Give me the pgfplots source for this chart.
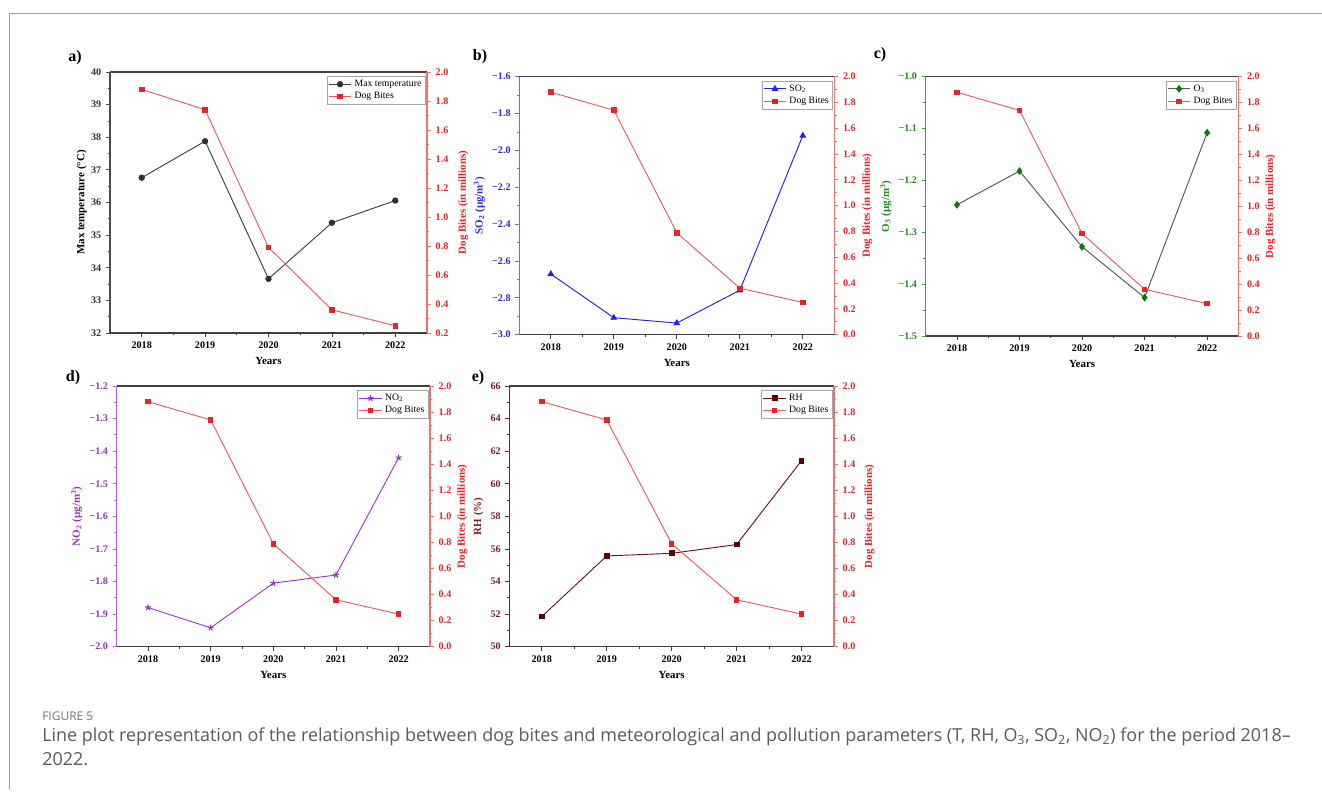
\documentclass[border=0pt]{standalone}
\usepackage{fontspec}
\setmainfont{Liberation Serif}
\newfontfamily\capfont{Open Sans}
\usepackage{pgfplots}
\pgfplotsset{compat=1.18}
\definecolor{dbline}{HTML}{F25A5A}
\definecolor{dbmark}{HTML}{E82428}
\definecolor{axred}{HTML}{F27070}
\definecolor{tlred}{HTML}{EC2225}
\definecolor{tline}{HTML}{404040}
\definecolor{tmark}{HTML}{303030}
\definecolor{sline}{HTML}{2020F0}
\definecolor{slab}{HTML}{2A2AD8}
\definecolor{sax}{HTML}{6A6AFF}
\definecolor{oline}{HTML}{555555}
\definecolor{omark}{HTML}{0B7A0B}
\definecolor{olab}{HTML}{1F8A1F}
\definecolor{oax}{HTML}{3CA83C}
\definecolor{nline}{HTML}{A535D8}
\definecolor{nmark}{HTML}{8E2BC2}
\definecolor{nlab}{HTML}{9B33C4}
\definecolor{nax}{HTML}{B85CE6}
\definecolor{rline}{HTML}{7A0E0E}
\definecolor{rmark}{HTML}{5C0000}
\definecolor{rlab}{HTML}{7D1F1F}
\definecolor{rax}{HTML}{7A2020}
\definecolor{capgray}{HTML}{5A5A5A}
\definecolor{bordergray}{HTML}{A0A0A0}

\pgfplotsset{
  base/.style={scale only axis, anchor=south west,
    xmin=2017.5, xmax=2022.5,
    tick align=outside, major tick length=3pt, minor tick length=1.7pt,
    every tick/.append style={line width=0.6pt},
    tick label style={font=\bfseries\fontsize{7.6}{8}\selectfont},
    label style={font=\bfseries\fontsize{8.2}{9}\selectfont},
    axis line style={line width=0.8pt},
    minor y tick num=1,
  },
  leftax/.style={base, separate axis lines,
    xtick={2018,2019,2020,2021,2022},
    xticklabels={2018,2019,2020,2021,2022},
    minor x tick num=1,
    xtick pos=bottom, ytick pos=left,
    x axis line style={black!75},
    x tick style={black!75},
    xlabel={Years},
  },
  rightax/.style={base, axis y line*=right, axis x line=none,
    xtick=\empty,
    y axis line style={axred}, y tick style={axred},
    yticklabel style={tlred},
    ylabel={Dog Bites (in millions)}, ylabel style={tlred},
    ytick={0,0.2,0.4,0.6,0.8,1.0,1.2,1.4,1.6,1.8,2.0},
    yticklabels={0.0,0.2,0.4,0.6,0.8,1.0,1.2,1.4,1.6,1.8,2.0},
    ymin=0, ymax=2,
    legend style={at={(0.995,0.985)}, anchor=north east, draw=gray!70,
      line width=0.5pt, font=\fontsize{7.3}{8.5}\selectfont,
      inner sep=0.8pt, row sep=-1pt, cells={anchor=west}},
  },
  dog/.style={color=dbline, line width=0.7pt, mark=square*, mark size=1.7pt,
    mark options={fill=dbmark, draw=dbmark}},
}

\begin{document}
\begin{tikzpicture}
\path[use as bounding box] (0pt,0pt) rectangle (991.5pt,-595.5pt);
\draw[bordergray, line width=0.75pt] (991.5pt,-9.75pt) -- (6.75pt,-9.75pt) -- (6.75pt,-592.5pt);

% ---------- panel a ----------
\begin{axis}[leftax, at={(82.5pt,-249.75pt)}, width=237.75pt, height=195.75pt,
  ymin=32, ymax=40, ytick={32,33,34,35,36,37,38,39,40},
  yticklabels={32,33,34,35,36,37,38,39,40},
  y axis line style={black!70}, y tick style={black!70},
  yticklabel style={black!80}, ylabel={Max temperature (°C)}, ylabel style={yshift=-3.5pt}]
\addplot[color=tline, line width=0.7pt, mark=*, mark size=2pt, mark options={fill=tmark, draw=tmark}]
  coordinates {(2018,36.76)(2019,37.88)(2020,33.66)(2021,35.38)(2022,36.06)};
\end{axis}
\begin{axis}[rightax, at={(82.5pt,-249.75pt)}, width=237.75pt, height=195.75pt,
  ymin=0.2, ymax=2.0,
  ytick={0.2,0.4,0.6,0.8,1.0,1.2,1.4,1.6,1.8,2.0},
  yticklabels={0.2,0.4,0.6,0.8,1.0,1.2,1.4,1.6,1.8,2.0}, ylabel style={yshift=-0.5pt}]
\addlegendimage{color=tline, line width=0.7pt, mark=*, mark size=2pt, mark options={fill=tmark, draw=tmark}}
\addlegendentry{Max temperature}
\addplot[dog] coordinates {(2018,1.88)(2019,1.74)(2020,0.79)(2021,0.36)(2022,0.25)};
\addlegendentry{Dog Bites}
\end{axis}

% ---------- panel b ----------
\begin{axis}[leftax, at={(389.5pt,-251pt)}, width=236.25pt, height=193.5pt,
  ymin=-3.0, ymax=-1.6, ytick={-3.0,-2.8,-2.6,-2.4,-2.2,-2.0,-1.8,-1.6},
  yticklabels={−3.0,−2.8,−2.6,−2.4,−2.2,−2.0,−1.8,−1.6},
  y axis line style={sax}, y tick style={sax},
  yticklabel style={slab}, ylabel={SO\textsubscript{2} (µg/m\textsuperscript{3})}, ylabel style={slab, yshift=-1.5pt}]
\addplot[color=sline, line width=0.7pt, mark=triangle*, mark size=2.3pt, mark options={fill=sline, draw=sline}]
  coordinates {(2018,-2.671)(2019,-2.908)(2020,-2.937)(2021,-2.759)(2022,-1.92)};
\end{axis}
\begin{axis}[rightax, at={(389.5pt,-251pt)}, width=236.25pt, height=193.5pt, ylabel style={yshift=2pt}]
\addlegendimage{color=sline, line width=0.7pt, mark=triangle*, mark size=2.3pt, mark options={fill=sline, draw=sline}}
\addlegendentry{SO\textsubscript{2}}
\addplot[dog] coordinates {(2018,1.88)(2019,1.74)(2020,0.79)(2021,0.36)(2022,0.25)};
\addlegendentry{Dog Bites}
\end{axis}

% ---------- panel c ----------
\begin{axis}[leftax, at={(694.3pt,-252pt)}, width=234.5pt, height=194.5pt,
  ymin=-1.5, ymax=-1.0, ytick={-1.5,-1.4,-1.3,-1.2,-1.1,-1.0},
  yticklabels={−1.5,−1.4,−1.3,−1.2,−1.1,−1.0},
  y axis line style={oax}, y tick style={oax},
  yticklabel style={olab}, ylabel={O\textsubscript{3} (µg/m\textsuperscript{3})}, ylabel style={olab, yshift=-1.5pt}]
\addplot[color=oline, line width=0.7pt, mark=diamond*, mark size=2.4pt, mark options={fill=omark, draw=omark}]
  coordinates {(2018,-1.247)(2019,-1.182)(2020,-1.328)(2021,-1.426)(2022,-1.108)};
\end{axis}
\begin{axis}[rightax, at={(694.3pt,-252pt)}, width=234.5pt, height=194.5pt, ylabel style={yshift=2.5pt}]
\addlegendimage{color=oline, line width=0.7pt, mark=diamond*, mark size=2.4pt, mark options={fill=omark, draw=omark}}
\addlegendentry{O\textsubscript{3}}
\addplot[dog] coordinates {(2018,1.88)(2019,1.74)(2020,0.79)(2021,0.36)(2022,0.25)};
\addlegendentry{Dog Bites}
\end{axis}

% ---------- panel d ----------
\begin{axis}[leftax, at={(87.5pt,-485pt)}, width=235pt, height=195.5pt,
  ymin=-2.0, ymax=-1.2, ytick={-2.0,-1.9,-1.8,-1.7,-1.6,-1.5,-1.4,-1.3,-1.2},
  yticklabels={−2.0,−1.9,−1.8,−1.7,−1.6,−1.5,−1.4,−1.3,−1.2},
  y axis line style={nax}, y tick style={nax},
  yticklabel style={nlab}, ylabel={NO\textsubscript{2} (µg/m\textsuperscript{3})}, ylabel style={nlab, yshift=-1.5pt}]
\addplot[color=nline, line width=0.7pt, mark=star, mark size=2.3pt, mark options={draw=nmark, line width=0.8pt}]
  coordinates {(2018,-1.88)(2019,-1.942)(2020,-1.805)(2021,-1.78)(2022,-1.42)};
\end{axis}
\begin{axis}[rightax, at={(87.5pt,-485pt)}, width=235pt, height=195.5pt, ylabel style={yshift=2.5pt}]
\addlegendimage{color=nline, line width=0.7pt, mark=star, mark size=2.3pt, mark options={draw=nmark, line width=0.8pt}}
\addlegendentry{NO\textsubscript{2}}
\addplot[dog] coordinates {(2018,1.88)(2019,1.74)(2020,0.79)(2021,0.36)(2022,0.25)};
\addlegendentry{Dog Bites}
\end{axis}

% ---------- panel e ----------
\begin{axis}[leftax, at={(382pt,-485pt)}, width=243.5pt, height=195.5pt,
  ymin=50, ymax=66, ytick={50,52,54,56,58,60,62,64,66},
  yticklabels={50,52,54,56,58,60,62,64,66},
  y axis line style={rax}, y tick style={rax},
  yticklabel style={rlab}, ylabel={RH (\%)}, ylabel style={rlab, yshift=-1.5pt}]
\addplot[color=rline, line width=0.7pt, mark=square*, mark size=1.8pt, mark options={fill=rmark, draw=rmark}]
  coordinates {(2018,51.85)(2019,55.57)(2020,55.73)(2021,56.27)(2022,61.42)};
\end{axis}
\begin{axis}[rightax, at={(382pt,-485pt)}, width=243.5pt, height=195.5pt]
\addlegendimage{color=rline, line width=0.7pt, mark=square*, mark size=1.8pt, mark options={fill=rmark, draw=rmark}}
\addlegendentry{RH}
\addplot[dog] coordinates {(2018,1.88)(2019,1.74)(2020,0.79)(2021,0.36)(2022,0.25)};
\addlegendentry{Dog Bites}
\end{axis}

% panel letters
\node[font=\bfseries\fontsize{12}{14}\selectfont] at (56.25pt,-43.5pt) {a)};
\node[font=\bfseries\fontsize{12}{14}\selectfont] at (360pt,-42.75pt) {b)};
\node[font=\bfseries\fontsize{12}{14}\selectfont] at (660pt,-41.25pt) {c)};
\node[font=\bfseries\fontsize{12}{14}\selectfont] at (54.75pt,-283.5pt) {d)};
\node[font=\bfseries\fontsize{12}{14}\selectfont] at (358.5pt,-283.5pt) {e)};

% caption
\node[anchor=west, inner sep=0pt, text=capgray!85, font=\capfont\fontsize{9}{10}\selectfont] at (31.5pt,-537pt) {FIGURE 5};
\node[anchor=west, inner sep=0pt, text=capgray, font=\capfont\fontsize{13.45}{15}\selectfont] at (31.5pt,-552.5pt)
  {Line plot representation of the relationship between dog bites and meteorological and pollution parameters (T, RH, O\textsubscript{3}, SO\textsubscript{2}, NO\textsubscript{2}) for the period 2018–};
\node[anchor=west, inner sep=0pt, text=capgray, font=\capfont\fontsize{13.45}{15}\selectfont] at (31.5pt,-569pt) {2022.};
\end{tikzpicture}
\end{document}
